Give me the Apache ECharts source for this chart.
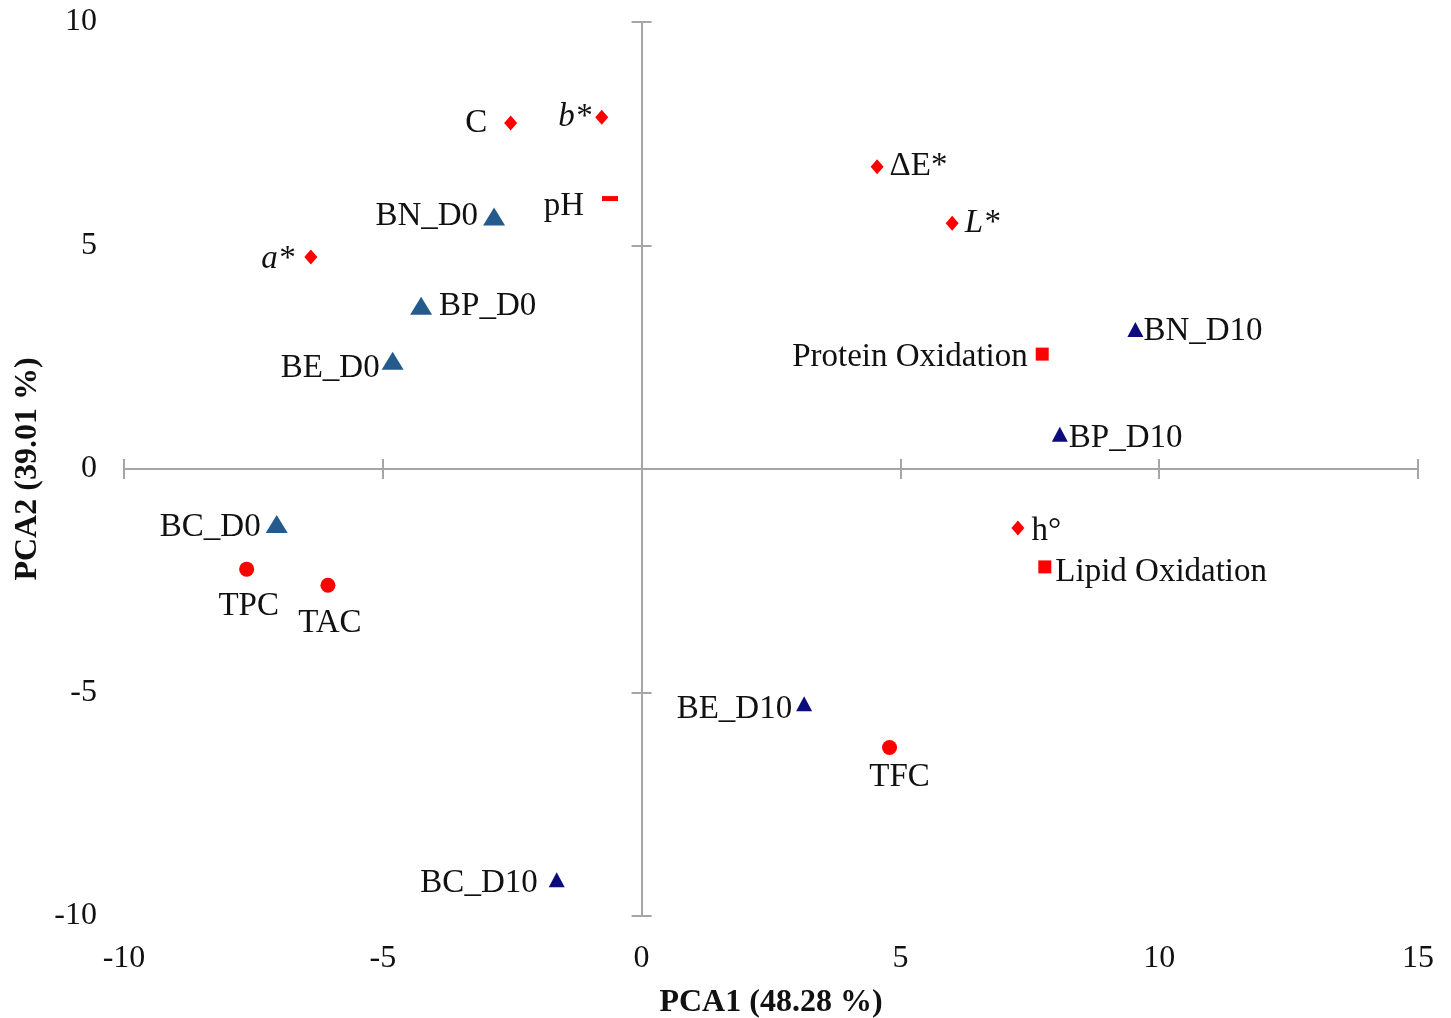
<!DOCTYPE html>
<html>
<head>
<meta charset="utf-8">
<script src="https://cdn.jsdelivr.net/npm/echarts@6/dist/echarts.min.js"></script>
<style>
  html, body { margin: 0; padding: 0; background: #ffffff; }
  #chart { width: 1451px; height: 1018px; }
</style>
</head>
<body>
<div id="chart"></div>
<script>
// ---------- data ----------
const xRange = [-10, 15];
const yRange = [-10, 10];
const tickStep = 5;
const xTitle = 'PCA1 (48.28 %)';
const yTitle = 'PCA2 (39.01 %)';

const colourNames = ['C', 'b*', 'ΔE*', 'L*', 'a*', 'h°'];
const colourX = [-2.53, -0.77, 4.55, 6.00, -6.39, 7.27];
const colourY = [7.74, 7.87, 6.76, 5.50, 4.74, -1.32];

const phNames = ['pH'];
const phX = [-0.61];
const phY = [6.05];

const oxidationNames = ['Protein Oxidation', 'Lipid Oxidation'];
const oxidationX = [7.74, 7.79];
const oxidationY = [2.57, -2.19];

const bioactiveNames = ['TPC', 'TAC', 'TFC'];
const bioactiveX = [-7.63, -6.06, 4.79];
const bioactiveY = [-2.24, -2.60, -6.23];

const day0Names = ['BN_D0', 'BP_D0', 'BE_D0', 'BC_D0'];
const day0X = [-2.85, -4.26, -4.81, -7.05];
const day0Y = [5.65, 3.65, 2.42, -1.23];

const day10Names = ['BN_D10', 'BP_D10', 'BE_D10', 'BC_D10'];
const day10X = [9.54, 8.08, 3.14, -1.64];
const day10Y = [3.12, 0.78, -5.25, -9.19];

// ---------- label styling (position, distance, offset) ----------
const labelPlacement = {
  'C': ['left', 17, [0, 0]], 'b*': ['left', 4, [0, 0]], 'ΔE*': ['right', 6, [0, 0]],
  'L*': ['right', 6, [0, 0]], 'a*': ['left', 10, [0, 2]], 'h°': ['right', 7, [0, 3]],
  'pH': ['left', 18, [0, 8]],
  'Protein Oxidation': ['left', 8, [0, 3]], 'Lipid Oxidation': ['right', 4, [0, 5]],
  'TPC': ['bottom', 10, [2, 3]], 'TAC': ['bottom', 10, [2, 4]], 'TFC': ['bottom', 3, [10, 3]],
  'BN_D0': ['left', 5, [0, 0]], 'BP_D0': ['right', 7, [0, 0]], 'BE_D0': ['left', 2, [0, 8]],
  'BC_D0': ['left', 5, [0, 3]],
  'BN_D10': ['right', 0, [0, 2]], 'BP_D10': ['right', 1, [0, 4]], 'BE_D10': ['left', 4, [0, 6]],
  'BC_D10': ['left', 11, [0, 4]]
};
const italicNames = ['b*', 'L*', 'a*'];

const FONT = '"Liberation Serif", "Times New Roman", serif';
const AXIS_GREY = '#a6a6a6';

function buildData(names, xs, ys) {
  return names.map((n, i) => {
    const pl = labelPlacement[n] || ['right', 5, [0, 0]];
    return {
      name: n,
      value: [xs[i], ys[i]],
      label: {
        show: true,
        formatter: '{b}',
        position: pl[0],
        distance: pl[1],
        offset: pl[2],
        fontStyle: italicNames.indexOf(n) >= 0 ? 'italic' : 'normal',
        fontFamily: FONT,
        fontSize: 33,
        color: '#111111'
      }
    };
  });
}

function scatter(name, data, symbol, size, color) {
  return {
    name: name,
    type: 'scatter',
    xAxisIndex: 0,
    yAxisIndex: 0,
    data: data,
    symbol: symbol,
    symbolSize: size,
    itemStyle: { color: color, opacity: 1 },
    emphasis: { disabled: true },
    z: 5
  };
}

const baseX = { type: 'value', min: xRange[0], max: xRange[1], interval: tickStep, splitLine: { show: false } };
const baseY = { type: 'value', min: yRange[0], max: yRange[1], interval: tickStep, splitLine: { show: false } };

const option = {
  backgroundColor: '#ffffff',
  animation: false,
  grid: { left: 124, top: 22, width: 1294, height: 894, containLabel: false, outerBoundsMode: 'none' },
  xAxis: [
    Object.assign({}, baseX, {
      position: 'bottom',
      axisLine: { show: false, onZero: false },
      axisTick: { show: false },
      axisLabel: { show: true, margin: 27, fontFamily: FONT, fontSize: 32, color: '#111111' },
      name: xTitle,
      nameLocation: 'middle',
      nameGap: 71,
      nameTextStyle: { fontFamily: FONT, fontSize: 32, fontWeight: 'bold', color: '#111111' }
    }),
    Object.assign({}, baseX, {
      position: 'bottom',
      axisLine: { show: true, onZero: true, onZeroAxisIndex: 0, lineStyle: { color: AXIS_GREY, width: 2 } },
      axisTick: { show: true, inside: false, length: 10, lineStyle: { color: AXIS_GREY, width: 2 } },
      axisLabel: { show: false }
    }),
    Object.assign({}, baseX, {
      position: 'bottom',
      axisLine: { show: false, onZero: true, onZeroAxisIndex: 0 },
      axisTick: { show: true, inside: true, length: 10, lineStyle: { color: AXIS_GREY, width: 2 } },
      axisLabel: { show: false }
    })
  ],
  yAxis: [
    Object.assign({}, baseY, {
      position: 'left',
      axisLine: { show: false, onZero: false },
      axisTick: { show: false },
      axisLabel: { show: true, margin: 27, fontFamily: FONT, fontSize: 32, color: '#111111' },
      name: yTitle,
      nameLocation: 'middle',
      nameRotate: 90,
      nameGap: 80,
      nameTextStyle: { fontFamily: FONT, fontSize: 32, fontWeight: 'bold', color: '#111111' }
    }),
    Object.assign({}, baseY, {
      position: 'left',
      axisLine: { show: true, onZero: true, onZeroAxisIndex: 0, lineStyle: { color: AXIS_GREY, width: 2 } },
      axisTick: { show: true, inside: false, length: 10, lineStyle: { color: AXIS_GREY, width: 2 } },
      axisLabel: { show: false }
    }),
    Object.assign({}, baseY, {
      position: 'left',
      axisLine: { show: false, onZero: true, onZeroAxisIndex: 0 },
      axisTick: { show: true, inside: true, length: 10, lineStyle: { color: AXIS_GREY, width: 2 } },
      axisLabel: { show: false }
    })
  ],
  series: [
    scatter('Colour', buildData(colourNames, colourX, colourY), 'diamond', [13, 15], '#ff0000'),
    scatter('pH', buildData(phNames, phX, phY), 'rect', [16, 5], '#ff0000'),
    scatter('Oxidation', buildData(oxidationNames, oxidationX, oxidationY), 'rect', [13, 13], '#ff0000'),
    scatter('Bioactives', buildData(bioactiveNames, bioactiveX, bioactiveY), 'circle', 15, '#ff0000'),
    scatter('Day 0', buildData(day0Names, day0X, day0Y), 'triangle', [22, 18], '#245b8c'),
    scatter('Day 10', buildData(day10Names, day10X, day10Y), 'triangle', [16, 15], '#0b0b7e')
  ]
};

const chart = echarts.init(document.getElementById('chart'), null, { renderer: 'canvas' });
chart.setOption(option);
</script>
</body>
</html>
